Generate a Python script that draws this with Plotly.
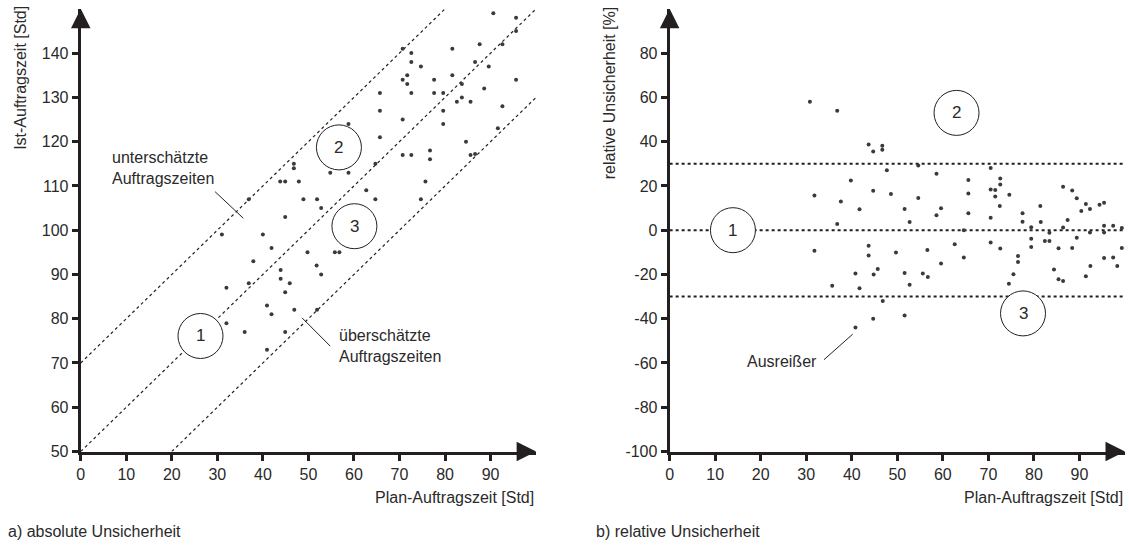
import plotly.graph_objects as go

# ---------------- data ----------------
left_plan = [90.6, 95.6, 95.6, 70.7, 72.6, 81.6, 87.6, 92.6, 72.6, 74.7, 86.6, 89.6, 71.7, 70.7, 71.7,
             77.6, 81.6, 83.7, 88.6, 95.6, 65.7, 72.6, 77.6, 79.6, 83.7, 82.6, 85.6, 92.6, 65.7, 79.6,
             70.7, 79.6, 91.6, 58.8, 65.7, 84.6, 70.7, 72.6, 76.7, 76.7, 85.6, 86.6, 64.7, 58.8, 46.8,
             46.8, 43.8, 44.9, 47.9, 54.8, 48.9, 51.9, 52.8, 36.9, 44.9, 31.0, 40.0, 41.9, 49.8, 55.8,
             56.8, 37.9, 51.8, 52.8, 43.9, 43.9, 45.9, 36.9, 44.9, 32.0, 40.9, 41.9, 46.9, 51.9, 32.0,
             36.0, 44.9, 40.9, 75.7, 62.7, 64.7, 74.7]
left_ist = [149, 148, 145, 141, 140, 141, 142, 142, 138, 137, 138, 137, 135, 134, 133,
            134, 135, 133, 132, 134, 131, 131, 131, 131, 130, 129, 129, 128, 127, 127,
            125, 124, 123, 124, 121, 120, 117, 117, 118, 116, 117, 117.2, 115, 113, 115,
            114, 111, 111, 111, 113, 107, 107, 105, 107, 103, 99, 99, 96, 95, 95,
            95, 93, 92, 90, 91, 89, 88, 88, 86, 87, 83, 81, 82, 82, 79,
            77, 77, 73, 111, 109, 107, 107]

right_plan = [30.8, 36.8, 31.8, 37.6, 36.8, 31.8, 43.7, 44.7, 46.7, 46.7, 47.7, 54.6, 70.5, 39.8, 58.6,
              65.6, 72.6, 72.6, 44.7, 48.6, 54.6, 65.6, 70.5, 71.5, 71.5, 74.6, 86.4, 88.4, 89.4, 91.4,
              94.4, 95.4, 41.7, 51.6, 59.6, 72.5, 81.4, 90.4, 92.3, 58.6, 65.6, 77.5, 52.7, 70.5, 77.5,
              81.5, 87.4, 79.4, 86.4, 95.4, 97.4, 99.3, 64.6, 83.4, 92.3, 95.4, 79.4, 82.4, 83.4, 89.4,
              43.7, 62.6, 70.5, 56.6, 72.6, 79.4, 85.4, 88.4, 99.3, 43.7, 49.7, 64.6, 76.5, 95.4, 97.4,
              59.6, 76.5, 51.6, 55.6, 56.7, 52.7, 75.5, 74.5, 84.4, 85.4, 86.4, 91.4, 92.4, 98.3, 46.8,
              51.6, 35.7, 40.8, 41.7, 44.8, 45.7, 44.7, 40.8]
right_rel = [58, 54, 15.7, 13, 2.8, -9.3, 38.7, 35.6, 38.2, 36.3, 27.1, 29.2, 28.1, 22.5, 25.5,
             22.7, 23.4, 20.6, 17.8, 16.3, 14.5, 16.6, 18.4, 18.1, 15.2, 16, 19.6, 17.9, 14.4, 11.8,
             11.5, 12.4, 9.5, 9.6, 9.9, 10.9, 10.9, 8.7, 9.6, 6.8, 7.6, 7.7, 3.7, 5.6, 3.8,
             3.7, 4.6, 1.3, 1.2, 2, 2, 1, 0, -1.2, -1, -1, -3.9, -4.9, -4.9, -3.4,
             -7, -6.4, -5.6, -8.9, -8.3, -7.6, -8.2, -8, -8, -11.4, -10.1, -12.3, -11.7, -12.6, -12.3,
             -15.1, -14.4, -19.3, -19.6, -21.1, -24.6, -19.9, -24.2, -17.8, -22.2, -23, -20.8, -16.2, -16.2, -32,
             -38.5, -25.1, -19.6, -26.2, -20, -17.5, -40, -44]

left_offsets = [70, 50, 30]          # reference lines  Ist = Plan + offset
right_levels = [30, 0, -30]          # reference lines  relative Unsicherheit
x_ticks = [0, 10, 20, 30, 40, 50, 60, 70, 80, 90]
left_y_ticks = [50, 60, 70, 80, 90, 100, 110, 120, 130, 140]
right_y_ticks = [-100, -80, -60, -40, -20, 0, 20, 40, 60, 80]
right_y_labels = [str(v) for v in right_y_ticks]   # plain hyphen-minus as in the original

# ---------------- styling ----------------
AX = "#231f20"
TXT = "#2a2a2a"
FONT = "Liberation Sans, Arial, sans-serif"
XMAX = 100
LYMIN, LYMAX = 50, 150
RYMIN, RYMAX = -100, 100

fig = go.Figure()

# left reference lines
for off in left_offsets:
    x0 = max(0, LYMIN - off)
    x1 = min(XMAX, LYMAX - off)
    fig.add_trace(go.Scatter(x=[x0, x1], y=[x0 + off, x1 + off], mode="lines",
                             line=dict(color=AX, width=1.2, dash="dot"),
                             xaxis="x", yaxis="y", hoverinfo="skip", showlegend=False))
fig.add_trace(go.Scatter(x=left_plan, y=left_ist, mode="markers",
                         marker=dict(size=4, color="#3a3a3a"), xaxis="x", yaxis="y",
                         showlegend=False))

# right reference lines
for lv in right_levels:
    fig.add_trace(go.Scatter(x=[0, 99.5], y=[lv, lv], mode="lines",
                             line=dict(color=AX, width=2, dash="dot"),
                             xaxis="x2", yaxis="y2", hoverinfo="skip", showlegend=False))
fig.add_trace(go.Scatter(x=right_plan, y=right_rel, mode="markers",
                         marker=dict(size=4, color="#3a3a3a"), xaxis="x2", yaxis="y2",
                         showlegend=False))

W, H = 1129, 552
xd_l = [77 / W, 534 / W]
xd_r = [668 / W, 1125 / W]
yd = [(H - 459) / H, (H - 9) / H]

axis_common = dict(showline=True, linewidth=3, linecolor=AX, ticks="outside", ticklen=6,
                   tickwidth=3, tickcolor=AX, showgrid=False, zeroline=False,
                   tickfont=dict(family=FONT, size=16, color=TXT))

fig.update_layout(
    width=W, height=H, margin=dict(l=0, r=0, t=0, b=0),
    paper_bgcolor="white", plot_bgcolor="white",
    xaxis=dict(domain=xd_l, range=[0, XMAX], tickvals=x_ticks, anchor="y", **axis_common),
    yaxis=dict(domain=yd, range=[LYMIN, LYMAX], tickvals=left_y_ticks, anchor="x", **axis_common),
    xaxis2=dict(domain=xd_r, range=[0, XMAX], tickvals=x_ticks, anchor="y2", **axis_common),
    yaxis2=dict(domain=yd, range=[RYMIN, RYMAX], tickvals=right_y_ticks, ticktext=right_y_labels,
                anchor="x2", **axis_common),
)

ann = []
shapes = []
# arrowheads
for xr, yr, x, y, ax, ay in [("x", "y", XMAX, LYMIN, -20, 0), ("x", "y", 0, LYMAX, 0, 20),
                             ("x2", "y2", XMAX, RYMIN, -20, 0), ("x2", "y2", 0, RYMAX, 0, 20)]:
    ann.append(dict(xref=xr, yref=yr, x=x, y=y, ax=ax, ay=ay, text="", showarrow=True,
                    arrowhead=2, arrowsize=1.3, arrowwidth=3, arrowcolor=AX, standoff=0))

def txt(xref, yref, x, y, t, xa="left", ya="middle", size=16, angle=0):
    ann.append(dict(xref=xref, yref=yref, x=x, y=y, text=t, showarrow=False, xanchor=xa,
                    yanchor=ya, textangle=angle, align="left",
                    font=dict(family=FONT, size=size, color=TXT)))

# axis titles
txt("paper", "paper", 534 / W, (H - 506) / H, "Plan-Auftragszeit [Std]", xa="right")
txt("paper", "paper", 1125 / W, (H - 506) / H, "Plan-Auftragszeit [Std]", xa="right")
txt("paper", "paper", 17 / W, (H - 4) / H, "Ist-Auftragszeit [Std]", xa="center", ya="top", angle=-90)
txt("paper", "paper", 608 / W, (H - 4) / H, "relative Unsicherheit [%]", xa="center", ya="top", angle=-90)
# panel captions
txt("paper", "paper", 2 / W, (H - 540) / H, "a) absolute Unsicherheit")
txt("paper", "paper", 592 / W, (H - 540) / H, "b) relative Unsicherheit")

# annotations on left
txt("x", "y", 6.5, 114, "unterschätzte<br>Auftragszeiten")
txt("x", "y", 56.2, 73.8, "überschätzte<br>Auftragszeiten")
shapes.append(dict(type="line", xref="x", yref="y", x0=29.5, y0=108.7, x1=35.7, y1=102.7,
                   line=dict(color=AX, width=1)))
shapes.append(dict(type="line", xref="x", yref="y", x0=48.6, y0=80.2, x1=54.8, y1=73.8,
                   line=dict(color=AX, width=1)))
# annotations on right
txt("x2", "y2", 32.8, -59.4, "Ausreißer", xa="right")
shapes.append(dict(type="line", xref="x2", yref="y2", x0=33.9, y0=-58.5, x1=40.2, y1=-47.0,
                   line=dict(color=AX, width=1)))

# numbered circles
R = 22.5
for xr, yr, cx, cy, lab in [("x", "y", 26.3, 76.1, "1"), ("x", "y", 56.7, 118.7, "2"),
                            ("x", "y", 60.1, 100.9, "3"), ("x2", "y2", 13.9, 0, "1"),
                            ("x2", "y2", 63.0, 53.0, "2"), ("x2", "y2", 77.6, -37.6, "3")]:
    shapes.append(dict(type="circle", xref=xr, yref=yr, xsizemode="pixel", ysizemode="pixel",
                       xanchor=cx, yanchor=cy, x0=-R, x1=R, y0=-R, y1=R, layer="above",
                       fillcolor="white", line=dict(color=AX, width=1)))
    ann.append(dict(xref=xr, yref=yr, x=cx, y=cy, text=lab, showarrow=False,
                    font=dict(family=FONT, size=17, color=TXT)))

fig.update_layout(annotations=ann, shapes=shapes)
fig.write_html("out.html")
